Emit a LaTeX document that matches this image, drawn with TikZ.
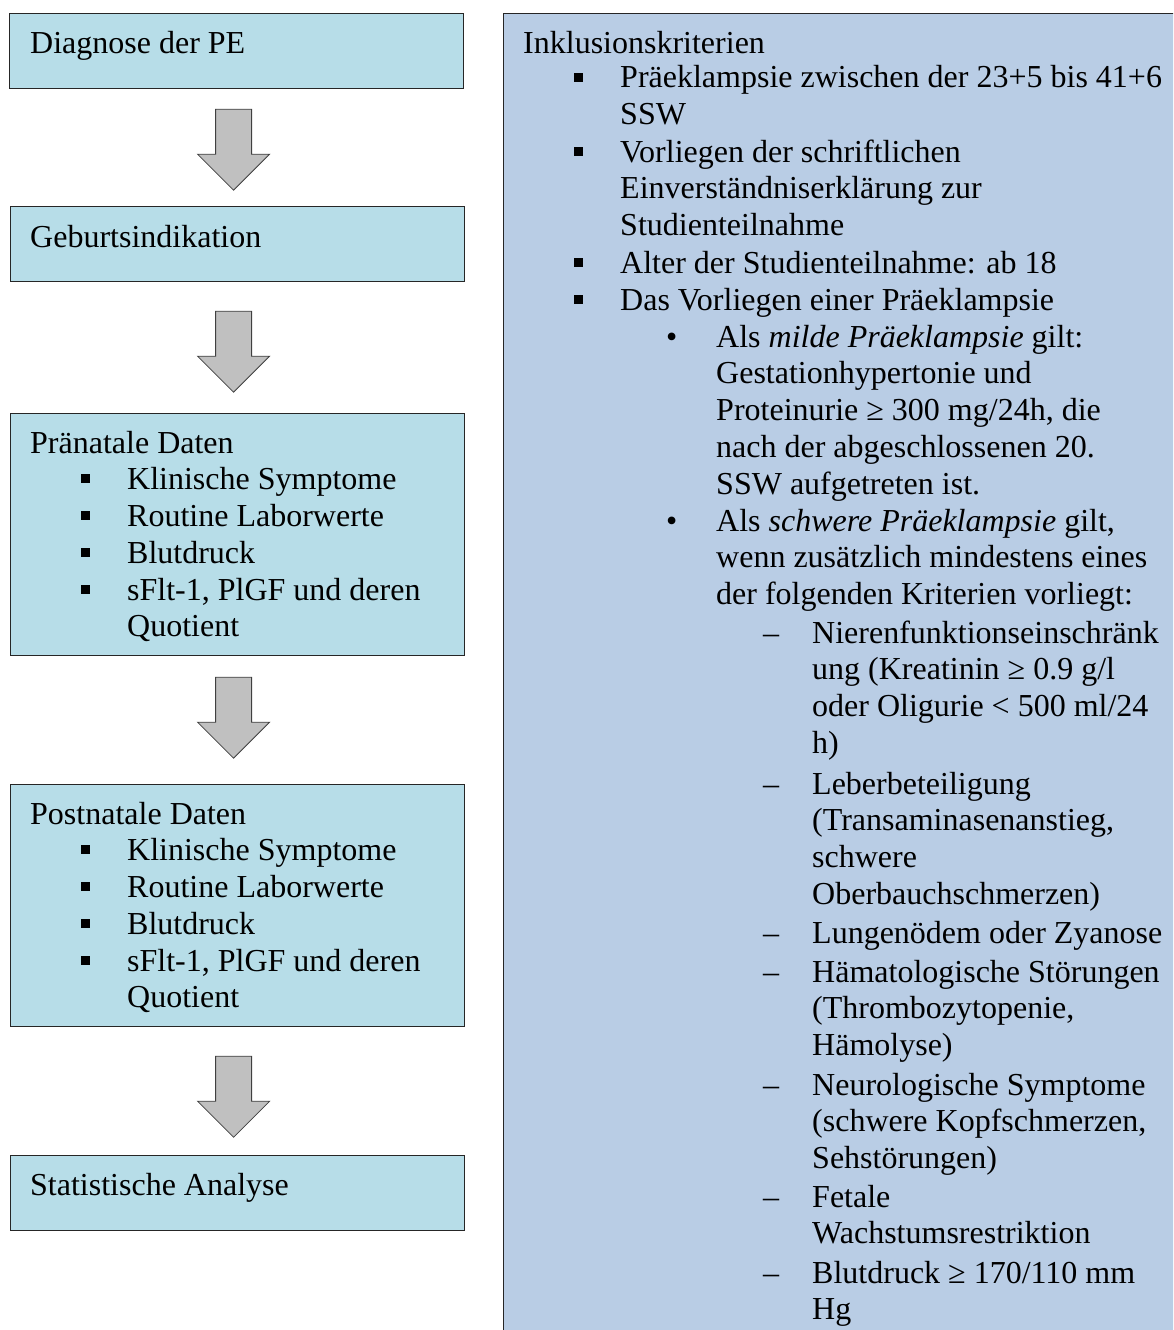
\documentclass[tikz,border=0pt]{standalone}
\usepackage{fontspec}
\setmainfont{Liberation Serif}
\usetikzlibrary{calc}
\definecolor{lbl}{RGB}{183,221,232}
\definecolor{rbl}{RGB}{185,205,229}
\definecolor{agr}{RGB}{192,192,192}
\newcommand\sqbul{\rule[6pt]{9pt}{9pt}}
\newcommand\ml[1]{\begin{tabular}[t]{@{}l@{}}#1\end{tabular}}
\newcommand\itm[6]{\node[txt] (#1b) at (#2,#4) {#5}; \node[txt] (#1) at (#3,#4) {\ml{#6}};}
\newcommand\barr[1]{\draw[barrow] ($(#1)+(-18,0)$) -- ($(#1)+(18,0)$) -- ($(#1)+(18,45)$) -- ($(#1)+(36,45)$) -- ($(#1)+(0,81)$) -- ($(#1)+(-36,45)$) -- ($(#1)+(-18,45)$) -- cycle;}
\begin{document}
\begin{tikzpicture}[x=1pt,y=-1pt,
 lbox/.style={draw=black!85, line width=1.2pt, fill=lbl, anchor=north west, inner sep=0pt, minimum width=454pt},
 txt/.style={anchor=base west, inner sep=0pt, font=\fontsize{32}{36.8}\selectfont},
 barrow/.style={draw=black!75, line width=0.8pt, fill=agr}]
\useasboundingbox (0,0) rectangle (1173,1330);
\begin{scope}
\clip (0,0) rectangle (1173,1330);
\node[draw=black!85, line width=1.2pt, fill=rbl, anchor=north west, inner sep=0pt, minimum width=700pt, minimum height=1400pt] (inc) at (503,13) {};
\end{scope}
% left boxes
\node[lbox, minimum height=75pt] (b1) at (9,13) {};
\node[lbox, minimum height=75pt] (b2) at (10,206) {};
\node[lbox, minimum height=242pt] (b3) at (10,413) {};
\node[lbox, minimum height=242pt] (b4) at (10,784) {};
\node[lbox, minimum height=75pt] (b5) at (10,1155) {};
% arrows
\coordinate (a1) at ($(b1.south)+(-3,20)$);
\coordinate (a2) at ($(b2.south)+(-4,29)$);
\coordinate (a3) at ($(b3.south)+(-4,21)$);
\coordinate (a4) at ($(b4.south)+(-4,29)$);
\barr{a1}\barr{a2}\barr{a3}\barr{a4}
% left texts
\node[txt] (t1) at (30,53) {Diagnose der PE};
\node[txt] (t2) at (30,247) {Geburtsindikation};
\node[txt] (t3) at (30,453) {Pränatale Daten};
\itm{p1}{81}{127}{489}{\sqbul}{Klinische Symptome}
\itm{p2}{81}{127}{526}{\sqbul}{Routine Laborwerte}
\itm{p3}{81}{127}{563}{\sqbul}{Blutdruck}
\itm{p4}{81}{127}{600}{\sqbul}{sFlt-1, PlGF und deren\\Quotient}
\node[txt] (t4) at (30,824) {Postnatale Daten};
\itm{q1}{81}{127}{860}{\sqbul}{Klinische Symptome}
\itm{q2}{81}{127}{897}{\sqbul}{Routine Laborwerte}
\itm{q3}{81}{127}{934}{\sqbul}{Blutdruck}
\itm{q4}{81}{127}{971}{\sqbul}{sFlt-1, PlGF und deren\\Quotient}
\node[txt] (t5) at (30,1195) {Statistische Analyse};
% right texts
\node[txt] (ik) at (523,53) {Inklusionskriterien};
\itm{r1}{574}{620}{88}{\sqbul}{Präeklampsie zwischen der 23+5 bis 41+6\\SSW}
\itm{r2}{574}{620}{162}{\sqbul}{Vorliegen der schriftlichen\\Einverständniserklärung zur\\Studienteilnahme}
\itm{r3}{574}{620}{273}{\sqbul}{Alter der Studienteilnahme: ab 18}
\itm{r4}{574}{620}{310}{\sqbul}{Das Vorliegen einer Präeklampsie}
\itm{s1}{666}{716}{347}{•}{Als \textit{milde Präeklampsie} gilt:\\Gestationhypertonie und\\Proteinurie ≥ 300 mg/24h, die\\nach der abgeschlossenen 20.\\SSW aufgetreten ist.}
\itm{s2}{666}{716}{531}{•}{Als \textit{schwere Präeklampsie} gilt,\\wenn zusätzlich mindestens eines\\der folgenden Kriterien vorliegt:}
\itm{u1}{763}{812}{643}{–}{Nierenfunktionseinschränk\\ung (Kreatinin ≥ 0.9 g/l\\oder Oligurie < 500 ml/24\\h)}
\itm{u2}{763}{812}{794}{–}{Leberbeteiligung\\(Transaminasenanstieg,\\schwere\\Oberbauchschmerzen)}
\itm{u3}{763}{812}{943}{–}{Lungenödem oder Zyanose}
\itm{u4}{763}{812}{982}{–}{Hämatologische Störungen\\(Thrombozytopenie,\\Hämolyse)}
\itm{u5}{763}{812}{1095}{–}{Neurologische Symptome\\(schwere Kopfschmerzen,\\Sehstörungen)}
\itm{u6}{763}{812}{1207}{–}{Fetale\\Wachstumsrestriktion}
\itm{u7}{763}{812}{1283}{–}{Blutdruck ≥ 170/110 mm\\Hg}
\end{tikzpicture}
\end{document}
